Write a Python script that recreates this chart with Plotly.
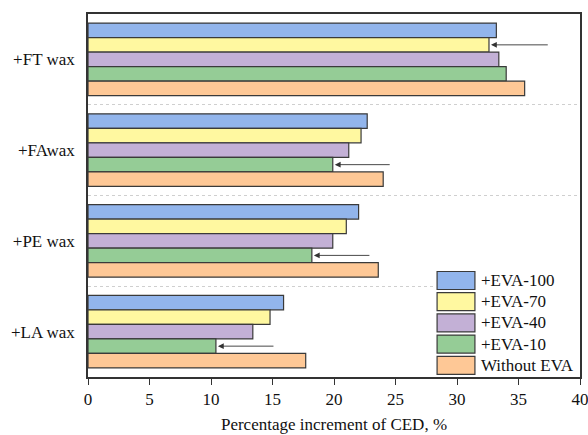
import plotly.graph_objects as go

# Wax additives (top to bottom) and EVA series
waxes = ["+FT wax", "+FAwax", "+PE wax", "+LA wax"]
series_names = ["+EVA-100", "+EVA-70", "+EVA-40", "+EVA-10", "Without EVA"]

eva_100 = [33.2, 22.7, 22.0, 15.9]
eva_70 = [32.6, 22.2, 21.0, 14.8]
eva_40 = [33.4, 21.2, 19.9, 13.4]
eva_10 = [34.0, 19.9, 18.2, 10.4]
without_eva = [35.5, 24.0, 23.6, 17.7]

# Arrows marking the lowest bar of each group: (wax, series, tail x)
arrow_series = ["+EVA-70", "+EVA-10", "+EVA-10", "+EVA-10"]
arrow_tails = [37.5, 24.65, 23.0, 15.2]

x_ticks = [0, 5, 10, 15, 20, 25, 30, 35, 40]

colors = ["#92b5ec", "#fff8a0", "#c3b0d6", "#95cc96", "#fec896"]
values = [eva_100, eva_70, eva_40, eva_10, without_eva]

FONT = "Liberation Serif"
W, H = 588, 435
ML, MR, MT, MB = 88, 6, 14, 58
PW, PH = W - ML - MR, H - MT - MB

fig = go.Figure()
for name, vals, col in zip(series_names, values, colors):
    fig.add_trace(go.Bar(
        name=name, y=waxes, x=vals, orientation="h",
        marker=dict(color=col, line=dict(color="#3a3a3a", width=1.2)),
        showlegend=False,
    ))

# Arrows pointing at specific bars
n = len(series_names)
bar_w = 0.8 / n
for wax, sname, tail in zip(waxes, arrow_series, arrow_tails):
    gi = waxes.index(wax)
    si = series_names.index(sname)
    yc = gi - 0.4 + bar_w * (si + 0.5)
    xv = values[si][gi]
    fig.add_annotation(
        x=xv, y=yc, ax=tail, ay=yc, xref="x", yref="y", axref="x", ayref="y",
        text="", showarrow=True, arrowhead=2, arrowsize=1.3, arrowwidth=0.9,
        arrowcolor="#333333", standoff=2,
    )

# Legend drawn as a panel inside the plot area
def px_x(px):
    return (px - ML) / PW

def px_y(py):
    return (H - MB - py) / PH

shapes = [dict(type="rect", xref="paper", yref="paper",
               x0=px_x(435), x1=px_x(580), y0=px_y(376), y1=px_y(268),
               fillcolor="white", line=dict(width=0), layer="above")]
for i, (name, col) in enumerate(zip(series_names, colors)):
    top = 271.5 + 21.2 * i
    bot = top + 18
    shapes.append(dict(type="rect", xref="paper", yref="paper",
                       x0=px_x(438.5), x1=px_x(476.5), y0=px_y(bot), y1=px_y(top),
                       fillcolor=col, line=dict(color="#3a3a3a", width=1.2),
                       layer="above"))
    fig.add_annotation(x=px_x(481), y=px_y((top + bot) / 2), xref="paper",
                       yref="paper", text=name, showarrow=False,
                       xanchor="left", yanchor="middle",
                       font=dict(family=FONT, size=17, color="#111111"))

fig.update_layout(
    width=W, height=H,
    margin=dict(l=ML, r=MR, t=MT, b=MB),
    barmode="group", bargap=0.2, bargroupgap=0,
    plot_bgcolor="white", paper_bgcolor="white",
    font=dict(family=FONT, size=17, color="#111111"),
    shapes=shapes,
    xaxis=dict(
        range=[0, 40], tickvals=x_ticks, ticks="outside", ticklen=6,
        tickcolor="#333333", tickwidth=1.2, ticklabeloverflow="allow",
        showline=True, linecolor="#333333", linewidth=1.6, mirror=True,
        showgrid=False, zeroline=False, automargin=False,
        title=dict(text="Percentage increment of CED, %", standoff=10,
                   font=dict(family=FONT, size=17)),
    ),
    yaxis=dict(
        categoryorder="array", categoryarray=waxes, autorange="reversed",
        showline=True, linecolor="#333333", linewidth=1.6, mirror=True,
        ticks="", tickson="boundaries", ticklabelstandoff=8,
        showgrid=True, gridcolor="#cfcfcf", griddash="dot", gridwidth=1,
        zeroline=False,
    ),
)

fig.write_html("out.html")
